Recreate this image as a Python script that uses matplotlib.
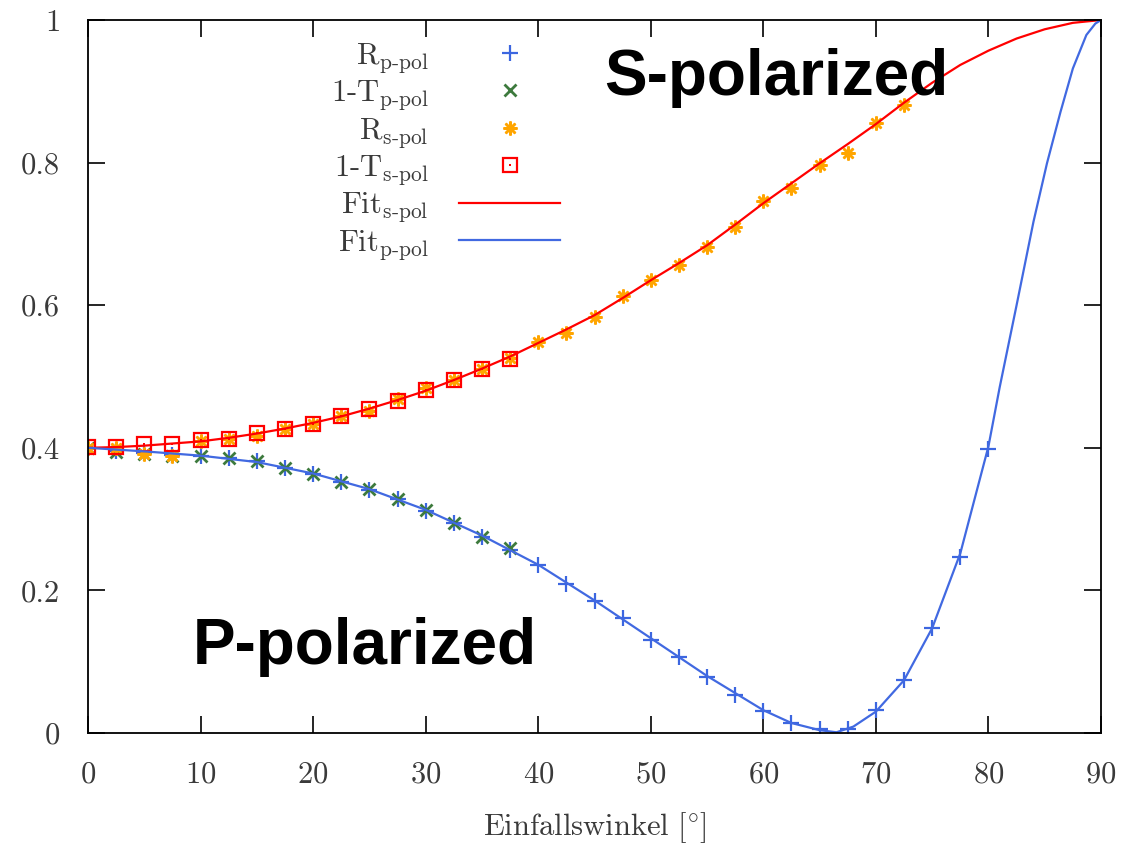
import matplotlib
matplotlib.use('Agg')
import matplotlib.pyplot as plt

plt.rcParams['font.family'] = ['cmr10', 'DejaVu Serif']
plt.rcParams['mathtext.fontset'] = 'cm'
plt.rcParams['axes.formatter.use_mathtext'] = True

# measured points, angle in degrees
angle_p = [0, 2.5, 5, 7.5, 10, 12.5, 15, 17.5, 20, 22.5, 25, 27.5, 30, 32.5, 35, 37.5,
           40, 42.5, 45, 47.5, 50, 52.5, 55, 57.5, 60, 62.5, 65, 67.5, 70, 72.5, 75, 77.5, 80]
r_p = [0.400, 0.396, 0.393, 0.390, 0.389, 0.385, 0.382, 0.372, 0.363, 0.352, 0.341, 0.328,
       0.312, 0.294, 0.275, 0.257, 0.235, 0.209, 0.185, 0.161, 0.131, 0.106, 0.079, 0.053,
       0.031, 0.014, 0.005, 0.005, 0.032, 0.074, 0.147, 0.247, 0.398]

angle_t = [0, 2.5, 5, 7.5, 10, 12.5, 15, 17.5, 20, 22.5, 25, 27.5, 30, 32.5, 35, 37.5]
one_minus_t_p = [0.400, 0.394, 0.392, 0.389, 0.389, 0.385, 0.382, 0.372, 0.363, 0.352,
                 0.342, 0.328, 0.313, 0.294, 0.275, 0.260]
one_minus_t_s = [0.401, 0.401, 0.405, 0.406, 0.411, 0.413, 0.421, 0.426, 0.434, 0.445,
                 0.455, 0.466, 0.481, 0.495, 0.510, 0.525]

angle_s = [0, 2.5, 5, 7.5, 10, 12.5, 15, 17.5, 20, 22.5, 25, 27.5, 30, 32.5, 35, 37.5,
           40, 42.5, 45, 47.5, 50, 52.5, 55, 57.5, 60, 62.5, 65, 67.5, 70, 72.5]
r_s = [0.400, 0.400, 0.391, 0.388, 0.410, 0.413, 0.417, 0.426, 0.434, 0.444, 0.452, 0.469,
       0.484, 0.495, 0.510, 0.526, 0.549, 0.561, 0.583, 0.613, 0.636, 0.657, 0.681, 0.710,
       0.746, 0.765, 0.797, 0.814, 0.856, 0.881]

# fit curves
fit_s_angle = [0, 2.5, 5, 7.5, 10, 12.5, 15, 17.5, 20, 22.5, 25, 27.5, 30, 32.5, 35, 37.5,
               40, 42.5, 45, 47.5, 50, 52.5, 55, 57.5, 60, 62.5, 65, 67.5, 70, 72.5, 75,
               77.5, 80, 82.5, 85, 87.5, 90]
fit_s = [0.400, 0.401, 0.403, 0.406, 0.409, 0.414, 0.420, 0.427, 0.435, 0.444, 0.455, 0.467,
         0.480, 0.495, 0.511, 0.528, 0.547, 0.566, 0.586, 0.610, 0.635, 0.659, 0.684, 0.713,
         0.743, 0.771, 0.799, 0.826, 0.854, 0.884, 0.912, 0.937, 0.957, 0.974, 0.987, 0.996, 1.0]

fit_p_angle = [0, 5, 10, 15, 20, 25, 30, 35, 40, 45, 50, 55, 60, 62.5, 65, 66.5, 68, 70,
               72.5, 75, 77.5, 80, 81, 82.5, 84, 85.2, 86.4, 87.5, 88.7, 89.5, 90]
fit_p = [0.400, 0.395, 0.389, 0.380, 0.364, 0.342, 0.313, 0.277, 0.236, 0.186, 0.133, 0.080,
         0.032, 0.014, 0.004, 0.001, 0.009, 0.030, 0.074, 0.147, 0.252, 0.402, 0.485, 0.600,
         0.717, 0.799, 0.871, 0.932, 0.979, 0.995, 1.0]

x_ticks = [0, 10, 20, 30, 40, 50, 60, 70, 80, 90]
y_ticks = [0, 0.2, 0.4, 0.6, 0.8, 1]
y_tick_labels = ['0', '0.2', '0.4', '0.6', '0.8', '1']

text_col = '#3a3a3a'

fig = plt.figure(figsize=(11.34, 8.5), dpi=100)
ax = fig.add_axes([88 / 1134, 1 - 733 / 850, 1013 / 1134, 713 / 850])

h_rp, = ax.plot(angle_p, r_p, ls='none', marker='+', ms=11, mew=1.6, color='#3c66e0')
h_tp, = ax.plot(angle_t, one_minus_t_p, ls='none', marker='x', ms=8, mew=2.0, color='#3d7a3d')
h_rs, = ax.plot(angle_s, r_s, ls='none', marker=(8, 2, 0), ms=10, mew=1.8, color='#ffa500')
h_ts, = ax.plot(angle_t, one_minus_t_s, ls='none', marker='s', ms=9.5, mew=1.6, mfc='none',
                color='#ff0000')
h_dot, = ax.plot(angle_t, one_minus_t_s, ls='none', marker='s', ms=2, mew=0, color='#ff0000')
h_fs, = ax.plot(fit_s_angle, fit_s, color='#ff0000', lw=1.6)
h_fp, = ax.plot(fit_p_angle, fit_p, color='#4169e1', lw=1.6)

ax.set_xlim(0, 90)
ax.set_ylim(0, 1)
ax.set_xticks(x_ticks)
ax.set_yticks(y_ticks)
ax.set_yticklabels(y_tick_labels)
ax.tick_params(direction='in', length=12, width=1.2, top=True, right=True,
               labelsize=22, labelcolor=text_col, pad=20)
for s in ax.spines.values():
    s.set_linewidth(1.3)
ax.set_xlabel(r'$\mathrm{Einfallswinkel}\ [^{\circ}]$', fontsize=22, color=text_col,
              labelpad=16)

labels = [r'R$_{\text{p-pol}}$', r'1-T$_{\text{p-pol}}$', r'R$_{\text{s-pol}}$',
          r'1-T$_{\text{s-pol}}$', r'Fit$_{\text{s-pol}}$', r'Fit$_{\text{p-pol}}$']
leg = ax.legend([h_rp, h_tp, h_rs, (h_ts, h_dot), h_fs, h_fp], labels, loc='upper right',
                bbox_to_anchor=(560 / 1134, 1 - 41 / 850), bbox_transform=fig.transFigure,
                frameon=False, markerfirst=False, numpoints=1, fontsize=22,
                handlelength=3.3, handletextpad=1.0, labelspacing=0.11,
                borderpad=0, borderaxespad=0)
for t in leg.get_texts():
    t.set_color(text_col)

ax.text(45.9, 0.895, 'S-polarized', fontsize=46, fontweight='bold',
        family='Liberation Sans', va='baseline', ha='left')
ax.text(9.3, 0.097, 'P-polarized', fontsize=46, fontweight='bold',
        family='Liberation Sans', va='baseline', ha='left')

fig.savefig('out.png', dpi=100)
